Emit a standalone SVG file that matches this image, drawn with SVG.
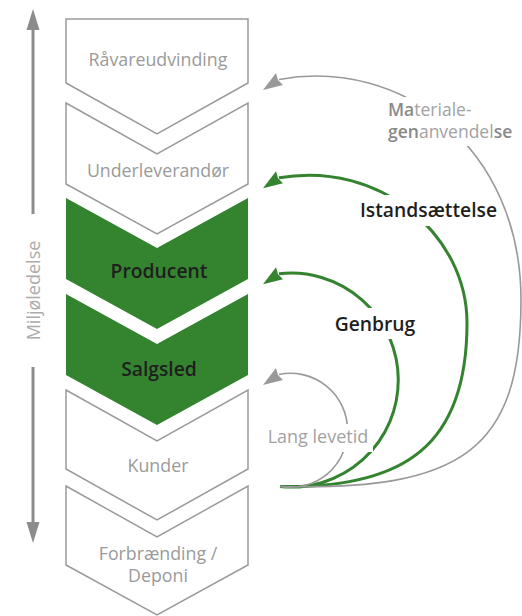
<svg xmlns="http://www.w3.org/2000/svg" xmlns:xlink="http://www.w3.org/1999/xlink" width="522" height="616" viewBox="0 0 522 616">
<style>
.out{fill:#fff;stroke:#9a9a9a;stroke-width:1.5;stroke-linejoin:miter}
.grn{fill:#34832f}
.lbl{font-family:"Open Sans","Liberation Sans",sans-serif;font-size:17.8px;fill:#9a9a9a;text-anchor:middle}
.bld{font-family:"Open Sans","Liberation Sans",sans-serif;font-size:19.3px;font-weight:600;fill:#1e1e1e;text-anchor:middle}
.gl{font-family:"Open Sans","Liberation Sans",sans-serif;font-size:17.5px;fill:#a2a2a2}
.gline{fill:none;stroke:#999;stroke-width:1.6}
.ggrn{fill:none;stroke:#34832f;stroke-width:3}
.bg{fill:#fff}
.axis{stroke:#8c8c8c;stroke-width:3;fill:none}
</style>
<defs>
<path id="ah" d="M0,0 L13,-17 L15,-10 L20,-5 Z"/>
<path id="axh" d="M0,0 L-6.5,21 L6.5,21 Z"/>
</defs>

<g id="axis">
<line class="axis" x1="33" y1="28" x2="33" y2="214"/>
<use xlink:href="#axh" x="33" y="9" fill="#8c8c8c"/>
<line class="axis" x1="33" y1="367" x2="33" y2="525"/>
<use xlink:href="#axh" x="33" y="543" fill="#8c8c8c" transform="rotate(180 33 543)"/>
<text class="gl" x="0" y="0" transform="translate(39.5 290.5) rotate(-90)" text-anchor="middle" style="fill:#ababab;font-size:18px">Miljøledelse</text>
</g>

<g id="n-ravare">
<path class="out" d="M66,19 H248 V83 L157,134 L66,83 Z"/>
<text class="lbl" x="158" y="66">Råvareudvinding</text>
</g>
<g id="n-underleverandor">
<path class="out" d="M66,103 L157,154 L248,103 V184 L157,234 L66,184 Z"/>
<text class="lbl" x="158" y="177">Underleverandør</text>
</g>
<g id="n-producent">
<path class="grn" d="M66,198 L157,248 L248,198 V279 L157,329 L66,279 Z"/>
<text class="bld" x="159" y="278">Producent</text>
</g>
<g id="n-salgsled">
<path class="grn" d="M66,294 L157,344 L248,294 V375 L157,425 L66,375 Z"/>
<text class="bld" x="159" y="376">Salgsled</text>
</g>
<g id="n-kunder">
<path class="out" d="M66,390 L157,441 L248,390 V469 L157,520 L66,469 Z"/>
<text class="lbl" x="158" y="472">Kunder</text>
</g>
<g id="n-forbraending">
<path class="out" d="M66,486 L157,537 L248,486 V565 L157,615 L66,565 Z"/>
<text class="lbl" x="158" y="560">Forbrænding /</text>
<text class="lbl" x="158" y="582">Deponi</text>
</g>

<g id="connectors">
<path class="ggrn" d="M279,177.8 C380,160 467,235 467,323 C467,445 405,489 280,486.5"/>
<use xlink:href="#ah" x="263" y="188.3" fill="#34832f"/>
<path class="ggrn" d="M279,273.8 A107,107 0 1 1 280,486.5"/>
<use xlink:href="#ah" x="263" y="284.3" fill="#34832f"/>
<g id="lbl-istand">
<rect class="bg" x="354" y="195" width="145" height="31"/>
<text class="bld" x="428.5" y="217">Istandsættelse</text>
</g>
<g id="lbl-genbrug">
<rect class="bg" x="322" y="308" width="104" height="31"/>
<text class="bld" x="375" y="331">Genbrug</text>
</g>
<path class="gline" d="M279,79.5 C402,57 521,148 521,300 C521,450 462,491 280,486.5"/>
<use xlink:href="#ah" x="263" y="90" fill="#999"/>
<path class="gline" d="M279,374.5 A57,57 0 1 1 281,486.5"/>
<use xlink:href="#ah" x="263" y="385" fill="#999"/>
<g id="lbl-materiale">
<rect class="bg" x="384" y="97" width="134" height="49"/>
<text class="gl" x="388" y="116"><tspan fill="#8a8a8a" font-weight="600">Ma</tspan>teriale-</text>
<text class="gl" x="388" y="138"><tspan fill="#8a8a8a" font-weight="600">gen</tspan>anvendel<tspan fill="#8a8a8a" font-weight="600">se</tspan></text>
</g>
<g id="lbl-lang">
<rect class="bg" x="263" y="424" width="110" height="28"/>
<text class="gl" x="318" y="442.5" text-anchor="middle" style="font-size:18px">Lang levetid</text>
</g>
</g>
</svg>
